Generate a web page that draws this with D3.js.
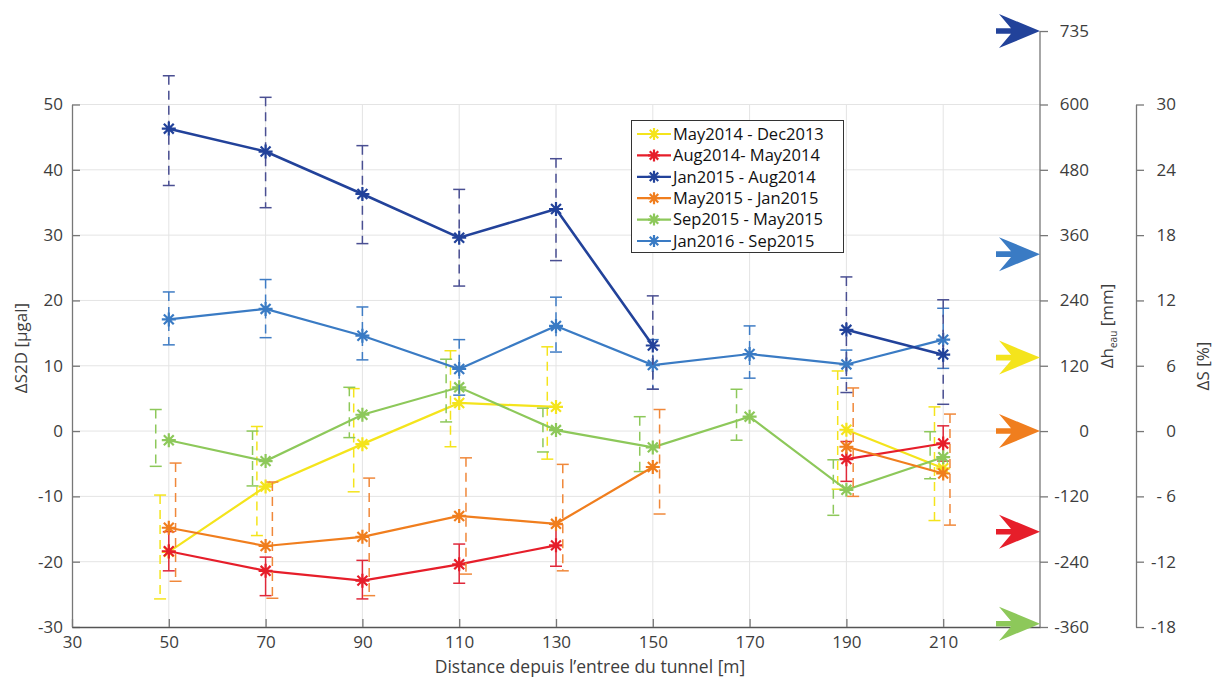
<!DOCTYPE html>
<html><head><meta charset="utf-8">
<script src="https://cdn.jsdelivr.net/npm/d3@7"></script>
<style>
body{margin:0;background:#fff;}
svg{display:block;font-family:"Open Sans","Noto Sans",sans-serif;}
</style></head>
<body><svg id="chart" width="1220" height="681"></svg>
<script>
// ---- data ----
const distances = [50, 70, 90, 110, 130, 150, 170, 190, 210];
const seriesNames = ["May2014 - Dec2013", "Aug2014- May2014", "Jan2015 - Aug2014", "May2015 - Jan2015", "Sep2015 - May2015", "Jan2016 - Sep2015"];
const seriesColors = ["#f4e41c", "#e61e2a", "#22429a", "#f07e1e", "#8dc85a", "#3a7bc4"];
const errColors = ["#f4e41c", "#e0283a", "#4a4f92", "#f0883a", "#8dc85a", "#3f7cc4"];

const may14dec13 = [-18.5, -8.5, -2.0, 4.3, 3.7, null, null, 0.2, -5.7];
const may14dec13Hi = [-9.8, 0.7, 6.5, 12.3, 12.9, null, null, 9.2, 3.7];
const may14dec13Lo = [-25.7, -16.0, -9.3, -2.4, -4.3, null, null, -8.9, -13.7];

const aug14may14 = [-18.4, -21.4, -22.9, -20.4, -17.5, null, null, -4.3, -1.9];
const aug14may14Hi = [-15.4, -19.3, -19.8, -17.3, -14.3, null, null, -1.6, 0.8];
const aug14may14Lo = [-21.4, -25.2, -25.7, -23.3, -20.7, null, null, -7.7, -4.6];

const jan15aug14 = [46.3, 42.8, 36.3, 29.6, 34.0, 13.1, null, 15.5, 11.7];
const jan15aug14Hi = [54.4, 51.1, 43.7, 37.0, 41.7, 20.7, null, 23.6, 20.1];
const jan15aug14Lo = [37.6, 34.2, 28.7, 22.2, 26.1, 6.4, null, 5.9, 4.1];

const may15jan15 = [-14.8, -17.6, -16.2, -13.0, -14.2, -5.5, null, -2.4, -6.5];
const may15jan15Hi = [-4.9, -7.8, -7.2, -4.1, -5.1, 3.3, null, 6.6, 2.6];
const may15jan15Lo = [-23.0, -25.6, -25.2, -21.9, -21.4, -12.7, null, -10.0, -14.4];

const sep15may15 = [-1.4, -4.6, 2.5, 6.7, 0.15, -2.5, 2.2, -9.0, -4.0];
const sep15may15Hi = [3.3, 0.0, 6.7, 11.0, 3.5, 2.2, 6.4, -4.4, -0.1];
const sep15may15Lo = [-5.4, -8.4, -1.0, 1.4, -3.2, -6.2, -1.4, -12.9, -7.3];

const jan16sep15 = [17.1, 18.7, 14.6, 9.5, 16.1, 10.1, 11.8, 10.2, 14.0];
const jan16sep15Hi = [21.3, 23.2, 19.0, 14.0, 20.5, 14.0, 16.1, 12.4, 18.8];
const jan16sep15Lo = [13.2, 14.3, 10.9, 5.5, 12.1, 6.4, 8.1, 8.1, 9.6];

// error-bar horizontal shift (in m) of each series in the original figure
const errShift = [-1.8, 0, 0, 1.4, -2.7, 0];
const errDashed = [true, false, true, true, true, true];

const xTicks = [30, 50, 70, 90, 110, 130, 150, 170, 190, 210];
const yTicks = [-30, -20, -10, 0, 10, 20, 30, 40, 50];
const hTicks = [-360, -240, -120, 0, 120, 240, 360, 480, 600, 735];
const sTicks = [-18, -12, -6, 0, 6, 12, 18, 24, 30];
const sTickLabels = ["-18", "-12", "- 6", "0", "6", "12", "18", "24", "30"];

// water-height arrows (mm) on the right axis
const arrowValues = [735, 325, 135, 0, -185, -354];
const arrowColors = ["#22429a", "#3a7bc4", "#f4e41c", "#f07e1e", "#e61e2a", "#8dc85a"];

// ---- build ----
const values = [may14dec13, aug14may14, jan15aug14, may15jan15, sep15may15, jan16sep15];
const his = [may14dec13Hi, aug14may14Hi, jan15aug14Hi, may15jan15Hi, sep15may15Hi, jan16sep15Hi];
const los = [may14dec13Lo, aug14may14Lo, jan15aug14Lo, may15jan15Lo, sep15may15Lo, jan16sep15Lo];
const drawOrder = [0, 1, 4, 3, 5, 2];

const svg = d3.select("#chart");
svg.append("rect").attr("width", 1220).attr("height", 681).attr("fill", "#fff");

const x = d3.scaleLinear().domain([30, 230]).range([72, 1040]);
const y = d3.scaleLinear().domain([-30, 50]).range([627, 104.5]);
const yh = d3.scaleLinear().domain([-360, 600]).range([y(-30), y(50)]);
const yS = d3.scaleLinear().domain([-18, 30]).range([y(-30), y(50)]);

const tickColor = "#3d3d3d";
const axisColor = "#777";
const plain = d => String(d);

// grid
const grid = svg.append("g");
grid.selectAll("line.h").data(yTicks.filter(t => t > -30)).join("line")
  .attr("x1", x(30)).attr("x2", x(230)).attr("y1", d => y(d)).attr("y2", d => y(d))
  .attr("stroke", "#e4e4e4").attr("stroke-width", 1);
grid.selectAll("line.v").data(xTicks.filter(t => t > 30)).join("line")
  .attr("x1", d => x(d)).attr("x2", d => x(d)).attr("y1", y(50)).attr("y2", y(-30))
  .attr("stroke", "#e4e4e4").attr("stroke-width", 1);

function styleAxis(g) {
  g.selectAll("path.domain").attr("stroke", axisColor).attr("stroke-width", 1.3);
  g.selectAll(".tick line").attr("stroke", axisColor).attr("stroke-width", 1.3);
  g.selectAll(".tick text").attr("fill", tickColor).attr("font-size", 17)
    .attr("font-family", '"Open Sans","Noto Sans",sans-serif');
}

// left axis
const gl = svg.append("g").attr("transform", `translate(${x(30)},0)`)
  .call(d3.axisLeft(y).tickValues(yTicks).tickSize(-8).tickSizeOuter(0).tickPadding(9).tickFormat(plain));
styleAxis(gl);

// bottom axis
const gb = svg.append("g").attr("transform", `translate(0,${y(-30)})`)
  .call(d3.axisBottom(x).tickValues(xTicks).tickSize(-8).tickSizeOuter(0).tickPadding(9).tickFormat(plain));
styleAxis(gb);
gb.select("path.domain").attr("stroke", "#555");

// right Δh axis
const gh = svg.append("g").attr("transform", `translate(${x(230)},0)`)
  .call(d3.axisRight(yh).tickValues(hTicks).tickSize(8).tickSizeOuter(0).tickPadding(0).tickFormat(plain));
gh.select("path.domain").attr("d", `M0,${yh(-360)}V${yh(735)}`);
styleAxis(gh);
gh.selectAll(".tick text").attr("text-anchor", "end").attr("x", 49);

// ΔS axis
const gs = svg.append("g").attr("transform", "translate(1136,0)")
  .call(d3.axisRight(yS).tickValues(sTicks).tickSize(8).tickSizeOuter(0).tickPadding(0)
    .tickFormat((d, i) => sTickLabels[i]));
styleAxis(gs);
gs.selectAll(".tick text").attr("text-anchor", "end").attr("x", 40);

// axis titles
svg.append("text").attr("transform", `translate(27,348) rotate(-90)`)
  .attr("text-anchor", "middle").attr("font-size", 17).attr("fill", tickColor).text("ΔS2D [µgal]");
const th = svg.append("text").attr("transform", `translate(1113,326) rotate(-90)`)
  .attr("text-anchor", "middle").attr("font-size", 17).attr("fill", tickColor);
th.append("tspan").text("Δh");
th.append("tspan").attr("font-size", 10).attr("dy", 4).text("eau");
th.append("tspan").attr("dy", -4).text(" [mm]");
svg.append("text").attr("transform", `translate(1209,366) rotate(-90)`)
  .attr("text-anchor", "middle").attr("font-size", 17).attr("fill", tickColor).text("ΔS [%]");
svg.append("text").attr("x", 590).attr("y", 673).attr("text-anchor", "middle")
  .attr("font-size", 17.5).attr("fill", tickColor).text("Distance depuis l\u2019entree du tunnel [m]");

// arrows
const arrows = svg.append("g");
arrowValues.forEach((v, i) => {
  const tx = x(230), ty = yh(v);
  const p = `M${tx},${ty} L${tx - 41},${ty - 17} L${tx - 29},${ty - 2.8} L${tx - 44},${ty - 2.8} L${tx - 44},${ty + 2.8} L${tx - 29},${ty + 2.8} L${tx - 41},${ty + 17} Z`;
  arrows.append("path").attr("d", p).attr("fill", arrowColors[i]);
});

// asterisk marker
function asterisk(cx, cy, r) {
  const d = r * Math.SQRT1_2;
  return `M${cx - r},${cy}H${cx + r}M${cx},${cy - r}V${cy + r}M${cx - d},${cy - d}L${cx + d},${cy + d}M${cx - d},${cy + d}L${cx + d},${cy - d}`;
}

const plot = svg.append("g");
const line = d3.line().defined(d => d.v != null).x(d => x(d.x)).y(d => y(d.v));

drawOrder.forEach(s => {
  const g = plot.append("g");
  const pts = distances.map((dx, i) => ({ x: dx, v: values[s][i], hi: his[s][i], lo: los[s][i] }));
  const eb = g.append("g").attr("stroke", errColors[s]).attr("stroke-width", 1.5).attr("fill", "none");
  pts.filter(p => p.v != null).forEach(p => {
    const ex = x(p.x + errShift[s]);
    eb.append("line").attr("x1", ex).attr("x2", ex).attr("y1", y(p.hi)).attr("y2", y(p.lo))
      .attr("stroke-dasharray", errDashed[s] ? "9,6" : null);
    eb.append("line").attr("x1", ex - 6).attr("x2", ex + 6).attr("y1", y(p.hi)).attr("y2", y(p.hi));
    eb.append("line").attr("x1", ex - 6).attr("x2", ex + 6).attr("y1", y(p.lo)).attr("y2", y(p.lo));
  });
  g.append("path").datum(pts).attr("d", line).attr("fill", "none")
    .attr("stroke", seriesColors[s]).attr("stroke-width", s === 2 ? 2.6 : 2.2);
  g.selectAll("path.m").data(pts.filter(p => p.v != null)).join("path")
    .attr("d", p => asterisk(x(p.x), y(p.v), 7)).attr("stroke", seriesColors[s])
    .attr("stroke-width", 2.2).attr("fill", "none");
});

// legend
const lg = svg.append("g");
lg.append("rect").attr("x", 631.5).attr("y", 120.5).attr("width", 212).attr("height", 132)
  .attr("fill", "#fff").attr("stroke", "#333").attr("stroke-width", 1);
seriesNames.forEach((n, i) => {
  const cy = 134 + i * 21.4;
  lg.append("line").attr("x1", 637).attr("x2", 671).attr("y1", cy).attr("y2", cy)
    .attr("stroke", seriesColors[i]).attr("stroke-width", 2.2);
  lg.append("path").attr("d", asterisk(654, cy, 6)).attr("stroke", seriesColors[i]).attr("stroke-width", 2.2);
  lg.append("text").attr("x", 673).attr("y", cy).attr("dy", "0.35em").attr("font-size", 16.5)
    .attr("fill", "#111").text(n);
});
</script></body></html>
